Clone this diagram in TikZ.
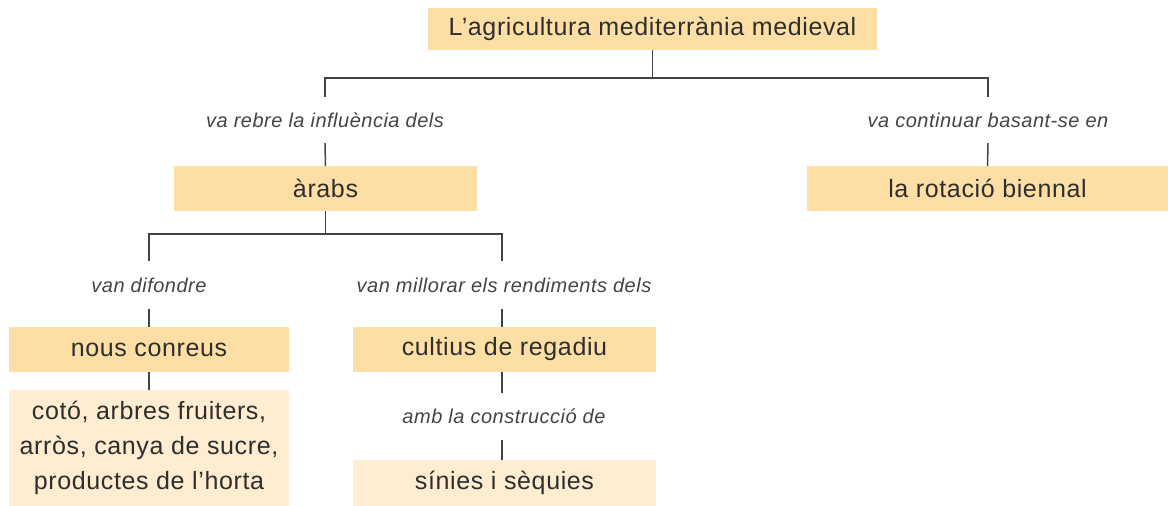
\documentclass[tikz,border=0pt]{standalone}
\usepackage{fontspec}
\setmainfont{Liberation Sans}[LetterSpace=2.5]
\definecolor{boxdark}{HTML}{FDDFA6}
\definecolor{boxlight}{HTML}{FEEDD0}
\definecolor{inktext}{HTML}{2E2E2E}
\definecolor{inkline}{HTML}{444444}
\tikzset{
  concept/.style={fill=boxdark, text=inktext, inner sep=0pt, minimum height=45pt,
    font=\fontsize{25}{35}\selectfont},
  detail/.style={concept, fill=boxlight, align=center},
  verb/.style={text=inkline, inner sep=0pt, minimum height=46pt,
    font=\fontsize{20}{22}\selectfont\itshape},
  link/.style={draw=inkline, line width=1.5pt}
}
\begin{document}
\begin{tikzpicture}[x=1pt,y=-1pt]
\useasboundingbox (0,0) rectangle (1168,506);
\node[concept, minimum width=449pt, minimum height=42pt] (agri) at (652.5,29){L’agricultura mediterrània medieval};
\node[verb] (rebre) at (325,120){va rebre la influència dels};
\node[verb] (basant) at (988,120){va continuar basant-se en};
\node[concept, minimum width=303pt] (arabs) at (325.5,188.5){àrabs};
\node[concept, minimum width=361pt] (rotacio) at (987.5,188.5){la rotació biennal};
\draw[link] (agri.south) -- ++(0,28) coordinate (bus1);
\draw[link] (rebre.north) |- (bus1) -| (basant.north);
\draw[link] (rebre.south) -- (arabs.north);
\draw[link] (basant.south) -- (rotacio.north);
\node[verb, minimum height=48pt] (difondre) at (149,285){van difondre};
\node[verb, minimum height=48pt] (millorar) at (504,285){van millorar els rendiments dels};
\node[concept, minimum width=280pt] (conreus) at (149,349.5){nous conreus};
\node[concept, minimum width=303pt] (regadiu) at (504.5,349.5){cultius de regadiu};
\draw[link] (arabs.south) -- ++(0,23) coordinate (bus2);
\draw[link] (difondre.north) |- (bus2) -| ([xshift=-2pt]millorar.north);
\draw[link] (difondre.south) -- (conreus.north);
\draw[link] ([xshift=-2pt]millorar.south) -- ([xshift=-2.5pt]regadiu.north);
\node[detail, minimum width=280pt, minimum height=116pt] (fruits) at (149,448){cotó, arbres fruiters,\\arròs, canya de sucre,\\productes de l’horta};
\draw[link] (conreus.south) -- (fruits.north);
\node[verb, minimum height=47pt] (construccio) at (504,416.5){amb la construcció de};
\node[detail, minimum width=303pt, minimum height=46pt] (sinies) at (504.5,483){sínies i sèquies};
\draw[link] ([xshift=-2.5pt]regadiu.south) -- ([xshift=-2pt]construccio.north);
\draw[link] ([xshift=-2pt]construccio.south) -- ([xshift=-2.5pt]sinies.north);

\end{tikzpicture}
\end{document}
